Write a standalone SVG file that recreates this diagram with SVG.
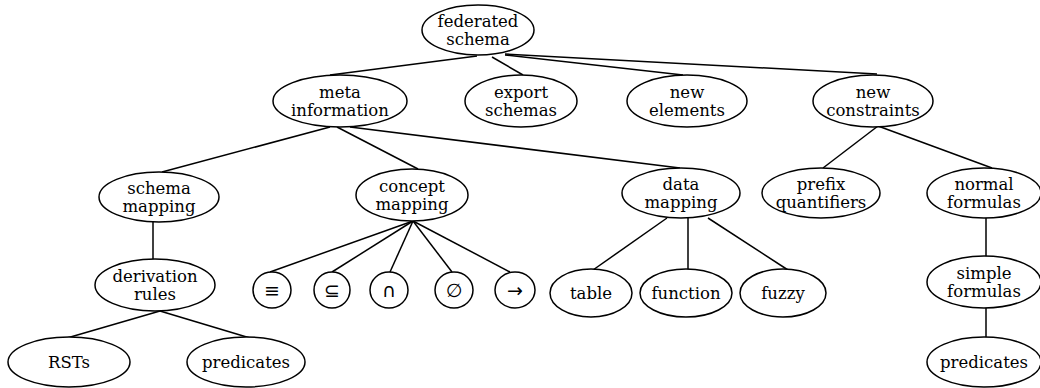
<svg xmlns="http://www.w3.org/2000/svg" width="1040" height="388" viewBox="0 0 1040 388">
<style>
  .n ellipse { fill: #fff; stroke: #000; stroke-width: 1.5; }
  .n text { font-family: "DejaVu Serif", "Liberation Serif", serif; font-size: 16.5px; fill: #000; text-anchor: middle; }
  .n text.sym { font-family: "DejaVu Sans", sans-serif; font-size: 19px; }
  #edges line { stroke: #000; stroke-width: 1.5; }
</style>
<rect width="1040" height="388" fill="#fff"/>
<g id="edges">
  <line x1="477" y1="56" x2="330" y2="75"/>
  <line x1="492" y1="57" x2="523" y2="75"/>
  <line x1="505" y1="55" x2="683" y2="75"/>
  <line x1="505" y1="54" x2="877" y2="74"/>
  <line x1="330" y1="127" x2="162" y2="172"/>
  <line x1="337" y1="127" x2="418" y2="169"/>
  <line x1="350" y1="127" x2="680" y2="168"/>
  <line x1="878" y1="126" x2="823" y2="168"/>
  <line x1="878" y1="126" x2="992" y2="168"/>
  <line x1="153" y1="222" x2="153" y2="259"/>
  <line x1="160" y1="311" x2="67" y2="338"/>
  <line x1="160" y1="311" x2="250" y2="338"/>
  <line x1="413" y1="221" x2="270" y2="272"/>
  <line x1="413" y1="221" x2="332" y2="272"/>
  <line x1="413" y1="221" x2="390" y2="272"/>
  <line x1="413" y1="221" x2="452" y2="272"/>
  <line x1="413" y1="221" x2="510" y2="272"/>
  <line x1="667" y1="218" x2="593" y2="270"/>
  <line x1="688" y1="218" x2="688" y2="270"/>
  <line x1="708" y1="218" x2="788" y2="270"/>
  <line x1="986" y1="218" x2="986" y2="257"/>
  <line x1="986" y1="308" x2="986" y2="337"/>
</g>
<g id="federated" class="n"><ellipse cx="478" cy="30" rx="56" ry="25"/><text x="478" y="27">federated</text><text x="478" y="45">schema</text></g>
<g id="meta" class="n"><ellipse cx="340" cy="101" rx="67" ry="26"/><text x="340" y="98">meta</text><text x="340" y="116">information</text></g>
<g id="export" class="n"><ellipse cx="521" cy="101" rx="56" ry="26"/><text x="521" y="98">export</text><text x="521" y="116">schemas</text></g>
<g id="newelements" class="n"><ellipse cx="687" cy="101" rx="60" ry="26"/><text x="687" y="98">new</text><text x="687" y="116">elements</text></g>
<g id="newconstraints" class="n"><ellipse cx="873" cy="101" rx="60" ry="26"/><text x="873" y="98">new</text><text x="873" y="116">constraints</text></g>
<g id="schemamapping" class="n"><ellipse cx="159" cy="197" rx="60" ry="25"/><text x="159" y="194">schema</text><text x="159" y="212">mapping</text></g>
<g id="conceptmapping" class="n"><ellipse cx="412" cy="195" rx="56" ry="26"/><text x="412" y="192">concept</text><text x="412" y="210">mapping</text></g>
<g id="datamapping" class="n"><ellipse cx="681" cy="193" rx="59" ry="25"/><text x="681" y="190">data</text><text x="681" y="208">mapping</text></g>
<g id="prefix" class="n"><ellipse cx="821" cy="193" rx="59" ry="25"/><text x="821" y="190">prefix</text><text x="821" y="208">quantifiers</text></g>
<g id="normal" class="n"><ellipse cx="984" cy="193" rx="57" ry="25"/><text x="984" y="190">normal</text><text x="984" y="208">formulas</text></g>
<g id="derivation" class="n"><ellipse cx="155" cy="285" rx="60" ry="26"/><text x="155" y="282">derivation</text><text x="155" y="300">rules</text></g>
<g id="rsts" class="n"><ellipse cx="69" cy="362" rx="61" ry="25"/><text x="69" y="368">RSTs</text></g>
<g id="predicates1" class="n"><ellipse cx="246" cy="362" rx="59" ry="25"/><text x="246" y="368">predicates</text></g>
<g id="equiv" class="n"><ellipse cx="272" cy="290" rx="19" ry="18"/><text class="sym" x="272" y="297">≡</text></g>
<g id="subset" class="n"><ellipse cx="332" cy="290" rx="18" ry="18"/><text class="sym" x="332" y="297">⊆</text></g>
<g id="intersect" class="n"><ellipse cx="389" cy="290" rx="19" ry="18"/><text class="sym" x="389" y="297">∩</text></g>
<g id="empty" class="n"><ellipse cx="454" cy="290" rx="19" ry="18"/><text class="sym" x="454" y="297">∅</text></g>
<g id="implies" class="n"><ellipse cx="515" cy="290" rx="20" ry="18"/><text class="sym" x="515" y="297">→</text></g>
<g id="table" class="n"><ellipse cx="591" cy="293" rx="41" ry="24"/><text x="591" y="299">table</text></g>
<g id="function" class="n"><ellipse cx="686" cy="293" rx="46" ry="24"/><text x="686" y="299">function</text></g>
<g id="fuzzy" class="n"><ellipse cx="783" cy="293" rx="43" ry="24"/><text x="783" y="299">fuzzy</text></g>
<g id="simple" class="n"><ellipse cx="984" cy="282" rx="57" ry="26"/><text x="984" y="279">simple</text><text x="984" y="297">formulas</text></g>
<g id="predicates2" class="n"><ellipse cx="984" cy="362" rx="57" ry="25"/><text x="984" y="368">predicates</text></g>
</svg>
